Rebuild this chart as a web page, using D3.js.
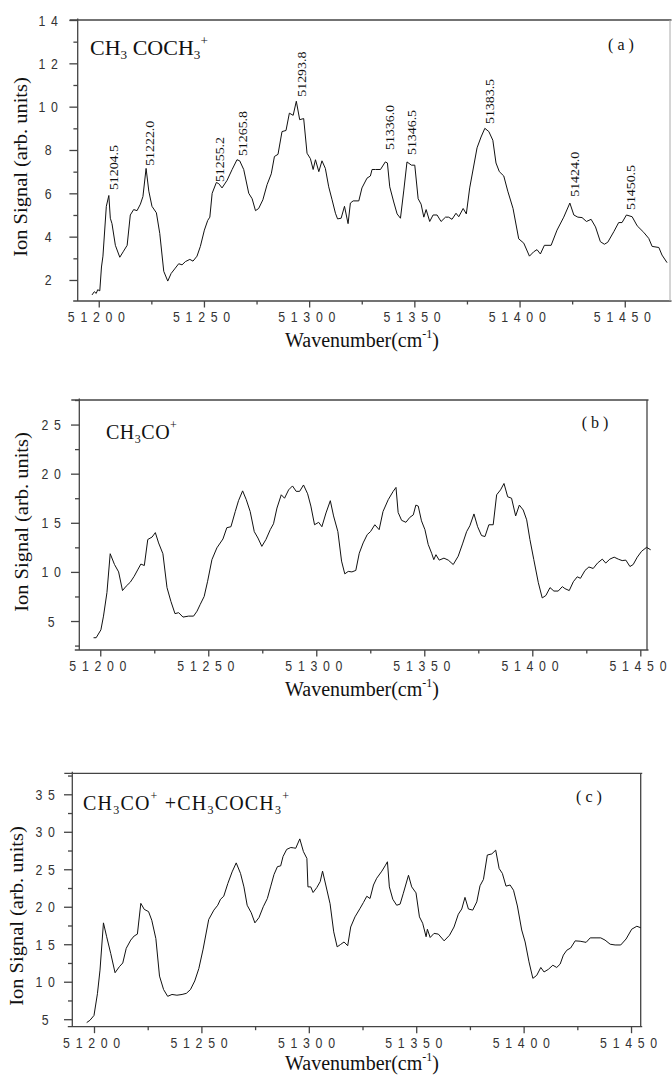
<!DOCTYPE html>
<html>
<head>
<meta charset="utf-8">
<script src="https://cdn.jsdelivr.net/npm/d3@7"></script>
<style>
  body { margin: 0; background: #fff; }
  svg { display: block; }
</style>
</head>
<body>
<div id="chart"></div>
<script>
(function spectra(){

// ---- data ----
const wnA = [51196.8,51197.9,51198.8,51199.5,51200.5,51201.3,51202.0,51203.6,51204.8,51205.5,51206.3,51207.9,51210.0,51211.6,51213.5,51215.0,51216.6,51218.2,51219.8,51221.0,51222.5,51223.8,51225.3,51227.4,51229.0,51230.9,51232.8,51234.4,51236.4,51238.0,51239.6,51241.2,51243.3,51244.8,51246.7,51248.3,51250.2,51251.8,51252.8,51253.9,51255.9,51257.0,51258.6,51261.0,51263.4,51265.7,51267.0,51268.9,51271.3,51272.9,51274.5,51276.0,51278.0,51280.0,51282.0,51283.5,51285.2,51287.1,51289.0,51290.6,51292.4,51293.9,51295.5,51297.4,51299.0,51300.6,51301.9,51303.0,51304.6,51306.1,51307.7,51309.3,51310.9,51312.5,51313.5,51315.2,51316.8,51318.5,51319.6,51320.9,51323.6,51325.1,51327.5,51329.1,51329.9,51331.5,51333.9,51336.2,51337.2,51338.3,51340.2,51341.8,51343.4,51345.0,51346.5,51348.6,51350.2,51351.8,51353.2,51354.5,51355.6,51357.3,51358.9,51360.8,51362.7,51364.8,51366.3,51367.9,51369.8,51371.1,51373.2,51374.7,51376.3,51379.8,51381.7,51383.5,51385.4,51387.3,51388.8,51390.4,51392.5,51394.4,51396.9,51399.6,51402.0,51404.7,51406.7,51408.3,51409.9,51411.8,51415.0,51417.8,51421.0,51423.9,51425.8,51427.7,51429.7,51431.8,51434.0,51436.1,51438.4,51440.3,51441.9,51444.8,51447.1,51448.7,51450.8,51453.5,51455.9,51459.0,51461.4,51463.0,51466.2,51467.7,51470.1];
const sigA = [1.31,1.46,1.38,1.55,1.5,2.6,3.1,5.4,5.9,4.85,4.6,3.6,3.05,3.3,3.6,5.0,5.25,5.2,5.5,5.85,7.15,6.1,5.4,5.1,4.15,2.4,1.95,2.3,2.55,2.75,2.7,2.85,2.95,2.87,3.1,3.55,4.3,4.75,4.9,6.0,6.5,6.45,6.25,6.6,7.1,7.55,7.5,7.1,6.0,5.75,5.2,5.3,5.7,6.4,6.9,7.7,7.8,8.85,8.9,9.7,9.6,10.25,9.4,9.45,7.85,7.6,7.1,7.55,7.0,7.5,7.15,6.3,5.7,5.08,4.82,4.85,5.4,4.6,5.55,5.65,5.65,6.25,6.7,6.8,7.1,7.1,7.1,7.45,7.4,6.3,5.6,5.05,4.85,6.15,7.45,7.3,7.3,5.75,5.5,4.9,5.25,4.7,5.0,5.0,4.7,4.9,4.9,4.8,5.08,4.92,5.3,5.05,6.25,8.1,8.6,9.0,8.85,8.45,7.4,7.0,6.8,6.1,5.3,3.9,3.7,3.1,3.3,3.4,3.2,3.6,3.6,4.3,4.9,5.55,5.0,4.9,4.88,4.7,4.8,4.45,3.77,3.65,3.74,4.23,4.65,4.65,5.0,4.92,4.5,4.2,3.92,3.55,3.5,3.15,2.8];

const wnB = [51196.9,51198.1,51200.3,51201.5,51203.1,51204.6,51206.6,51208.5,51210.3,51212.0,51213.9,51215.7,51217.3,51218.8,51220.4,51222.0,51224.0,51225.5,51227.0,51229.0,51230.9,51232.7,51234.6,51236.3,51238.3,51240.9,51243.2,51244.8,51246.3,51248.1,51249.7,51251.7,51254.0,51256.8,51258.6,51260.5,51262.5,51264.0,51265.9,51267.6,51269.4,51271.3,51273.0,51274.8,51276.7,51278.7,51280.2,51281.8,51283.8,51285.3,51287.2,51289.0,51290.7,51292.3,51294.1,51296.0,51297.5,51299.2,51301.1,51302.6,51304.5,51306.5,51308.0,51310.0,51311.7,51313.2,51314.8,51316.5,51318.3,51319.9,51321.7,51323.6,51325.1,51327.1,51329.1,51330.9,51333.3,51335.6,51336.9,51337.9,51339.5,51341.5,51343.3,51344.9,51346.1,51347.2,51348.7,51350.3,51351.8,51353.4,51354.4,51355.4,51356.9,51359.1,51361.1,51363.4,51365.7,51367.7,51369.6,51371.1,51373.0,51374.7,51376.5,51378.1,51379.9,51381.9,51383.5,51385.3,51386.9,51388.6,51390.4,51392.3,51394.0,51395.8,51397.4,51398.9,51400.7,51402.8,51404.6,51406.3,51408.2,51410.0,51412.0,51413.9,51415.1,51417.1,51419.0,51420.8,51422.3,51424.4,51426.2,51428.2,51430.2,51432.4,51434.0,51435.9,51437.9,51439.8,51441.6,51443.3,51445.2,51446.7,51448.6,51450.6,51452.9,51454.8];
const sigB = [3.3,3.3,4.1,5.5,7.9,11.85,10.75,10.0,8.1,8.55,8.95,9.55,10.2,10.8,10.65,13.3,13.55,14.0,12.95,11.85,8.4,7.0,5.75,5.85,5.4,5.5,5.5,6.0,6.7,7.5,9.05,11.25,12.45,13.35,14.5,14.6,16.15,17.25,18.25,17.35,16.15,14.1,13.45,12.6,13.3,14.3,14.9,16.5,17.85,17.5,18.35,18.75,18.2,18.2,18.85,17.95,16.7,14.8,15.05,14.6,16.0,17.25,15.7,14.1,11.1,9.8,10.05,10.0,10.15,11.9,12.95,13.8,14.1,14.8,14.3,16.15,17.35,18.2,18.6,16.05,15.25,15.05,15.55,15.8,16.8,16.7,15.2,14.3,12.8,11.9,11.25,11.75,11.2,11.4,11.2,10.75,11.6,12.85,14.1,14.7,15.9,14.6,13.7,13.6,14.8,14.8,17.85,18.35,19.0,17.65,17.5,15.7,16.8,16.3,15.3,13.3,11.25,8.9,7.35,7.6,8.4,8.05,8.05,8.5,8.3,8.1,9.0,9.5,9.35,10.15,10.5,10.35,10.9,11.3,10.9,11.3,11.5,11.3,11.15,11.2,10.55,10.75,11.5,12.1,12.5,12.25];

const wnC = [51196.6,51198.1,51200.0,51201.6,51202.8,51204.4,51205.9,51207.8,51209.8,51211.8,51213.4,51215.0,51217.1,51218.7,51220.2,51221.8,51223.4,51225.4,51226.9,51228.8,51230.5,51232.4,51234.3,51236.3,51238.6,51241.0,51243.0,51244.9,51246.9,51248.8,51250.8,51253.4,51255.8,51257.6,51258.9,51260.4,51262.3,51264.3,51266.2,51268.2,51269.8,51271.3,51273.2,51274.9,51276.8,51278.8,51280.7,51282.2,51283.8,51285.4,51286.9,51288.0,51289.7,51291.6,51293.0,51293.9,51295.8,51297.5,51299.1,51299.6,51300.9,51302.0,51303.7,51305.3,51306.4,51307.9,51309.9,51311.6,51313.2,51314.7,51316.4,51318.1,51319.5,51321.5,51323.9,51325.4,51327.0,51328.5,51330.1,51331.6,51334.0,51335.5,51336.6,51337.5,51339.1,51340.9,51342.5,51344.0,51346.4,51347.9,51349.9,51351.5,51353.0,51354.6,51355.2,51356.5,51358.3,51360.3,51363.0,51365.5,51367.6,51369.6,51371.2,51372.7,51374.3,51376.3,51378.2,51379.7,51381.3,51383.1,51385.2,51387.0,51388.6,51390.1,51391.8,51393.7,51395.3,51397.1,51399.1,51400.7,51402.5,51404.3,51406.1,51408.0,51409.5,51411.5,51413.6,51415.4,51417.0,51418.5,51420.1,51421.9,51424.0,51426.3,51429.1,51431.0,51433.7,51435.9,51437.9,51440.3,51442.6,51445.2,51447.7,51450.3,51452.7,51454.5];
const sigC = [4.55,4.85,5.5,8.4,11.55,17.85,16.0,13.75,11.2,12.0,12.5,14.45,15.55,16.1,16.35,20.45,19.65,19.35,18.2,15.75,10.75,8.95,8.05,8.3,8.2,8.3,8.45,8.95,10.1,11.75,14.35,18.3,19.55,20.2,21.0,21.4,23.1,24.65,25.85,24.45,22.65,20.2,19.2,17.85,18.55,20.0,21.1,22.65,24.3,25.35,25.45,26.7,27.65,27.9,27.85,27.8,29.05,27.35,26.45,22.65,22.65,21.9,22.55,23.35,24.75,22.9,20.4,16.65,14.65,14.95,15.3,14.8,17.3,18.65,19.8,20.55,21.4,21.1,22.9,23.8,24.75,25.45,26.0,22.65,21.0,20.2,20.35,21.8,24.2,22.65,21.85,18.65,17.8,16.0,17.0,15.9,16.45,16.35,15.45,16.2,17.3,19.0,19.7,21.25,19.7,19.55,20.65,22.8,23.65,26.9,27.05,27.55,25.1,24.45,22.75,22.9,22.2,20.1,16.9,15.3,12.65,10.45,10.85,11.9,11.3,11.65,12.2,11.9,12.35,13.55,14.2,14.5,15.45,15.4,15.25,15.85,15.85,15.85,15.55,15.0,14.9,14.9,15.7,17.0,17.4,17.2];

// peak assignments in panel (a)
const peakWn  = [51204.5,51222.0,51255.2,51265.8,51293.8,51336.0,51346.5,51383.5,51424.0,51450.5];
const peakSig = [6.15,7.27,6.52,7.72,10.46,8.0,7.77,9.2,5.84,5.23];

// ticks
const xMajor  = [51200,51250,51300,51350,51400,51450];
const xMinor  = [51225,51275,51325,51375,51425];
const yMajorA = [2,4,6,8,10,12,14];
const yMinorA = [3,5,7,9,11,13];
const yMajorB = [5,10,15,20,25];
const yMinorB = [2.5,7.5,12.5,17.5,22.5,27.5];
const yMajorC = [5,10,15,20,25,30,35];
const yMinorC = [7.5,12.5,17.5,22.5,27.5,32.5,37.5];

// titles: [text, 0 normal / -1 subscript / 1 superscript]
const titleA = [["CH",0],["3",-1],[" COCH",0],["3",-1],["+",1]];
const titleB = [["CH",0],["3",-1],["CO",0],["+",1]];
const titleC = [["CH",0],["3",-1],["CO",0],["+",1],[" +CH",0],["3",-1],["COCH",0],["3",-1],["+",1]];
const xTitle = "Wavenumber(cm";
const yTitle = "Ion Signal (arb. units)";

const width = 672, height = 1075;
const SERIF = "'Liberation Serif','Times New Roman',serif";
const SANS = "'Liberation Sans',Arial,sans-serif";
const AXIS = "#444";

const svg = d3.select("#chart").append("svg")
    .attr("width", width).attr("height", height)
    .attr("viewBox", [0, 0, width, height]);

const panels = [
  { wn: wnA, sig: sigA, left: 77.7, right: 670, top: 20, bottom: 301,
    xDom: [51190.0, 51471.5], yDom: [1.03, 14], yMajor: yMajorA, yMinor: yMinorA,
    title: titleA, tx: 90, ty: 55, tsize: 22, tspace: 0, tag: "( a )", tagX: 621, tagY: 50,
    yLab: [20, 167], xLabY: 347, yTickX: 48, rightCol: "#aaa" },
  { wn: wnB, sig: sigB, left: 79.3, right: 647, top: 400, bottom: 650,
    xDom: [51190.3, 51453.1], yDom: [2.05, 27.5], yMajor: yMajorB, yMinor: yMinorB,
    title: titleB, tx: 106, ty: 439, tsize: 20, tspace: 0.5, tag: "( b )", tagX: 595, tagY: 428,
    yLab: [21, 522], xLabY: 696, yTickX: 51, rightCol: AXIS },
  { wn: wnC, sig: sigC, left: 72.3, right: 640.7, top: 773.3, bottom: 1026.7,
    xDom: [51189.9, 51454.5], yDom: [4, 37.8], yMajor: yMajorC, yMinor: yMinorC,
    title: titleC, tx: 83, ty: 810, tsize: 20, tspace: 1.2, tag: "( c )", tagX: 589, tagY: 802,
    yLab: [16, 916], xLabY: 1070, yTickX: 45, rightCol: AXIS }
];

panels.forEach((p, i) => {
  const g = svg.append("g");

  let x = d3.scaleLinear().domain(p.xDom).range([p.left, p.right]);
  let y = d3.scaleLinear().domain(p.yDom).range([p.bottom, p.top]);

  // frame
  const frame = g.append("g").attr("stroke", AXIS).attr("stroke-width", 1.3).attr("fill", "none");
  frame.append("line").attr("x1", p.left - 4.5).attr("x2", p.right + 1.5).attr("y1", p.bottom).attr("y2", p.bottom);
  frame.append("line").attr("x1", p.left).attr("x2", p.left).attr("y1", p.bottom).attr("y2", p.top - 1.5);
  frame.append("line").attr("x1", p.left - 8).attr("x2", p.right + 1.5).attr("y1", p.top).attr("y2", p.top);
  frame.append("line").attr("x1", p.right).attr("x2", p.right).attr("y1", p.top).attr("y2", p.bottom)
    .attr("stroke", p.rightCol).attr("stroke-width", i === 0 ? 1 : 1.3);

  // x ticks
  const xa = g.append("g").attr("transform", `translate(0,${p.bottom})`)
    .call(d3.axisBottom(x).tickValues(xMajor).tickSize(6.5).tickSizeOuter(0).tickFormat(d => d));
  g.append("g").attr("transform", `translate(0,${p.bottom})`)
    .call(d3.axisBottom(x).tickValues(xMinor).tickSize(3.5).tickSizeOuter(0).tickFormat(""));

  // y ticks
  const ya = g.append("g").attr("transform", `translate(${p.left},0)`)
    .call(d3.axisLeft(y).tickValues(p.yMajor).tickSize(8.3).tickSizeOuter(0).tickFormat(d => d));
  g.append("g").attr("transform", `translate(${p.left},0)`)
    .call(d3.axisLeft(y).tickValues(p.yMinor).tickSize(4.3).tickSizeOuter(0).tickFormat(""));

  g.selectAll(".domain").remove();
  g.selectAll(".tick line").attr("stroke", AXIS).attr("stroke-width", 1.3);

  xa.selectAll(".tick text")
    .attr("x", null).attr("y", null).attr("dy", null)
    .attr("text-anchor", "middle")
    .attr("transform", "translate(0,21) scale(0.88,1)");
  ya.selectAll(".tick text")
    .attr("x", null).attr("y", null).attr("dy", null)
    .attr("text-anchor", "middle")
    .attr("transform", `translate(${p.yTickX - p.left + 3},5) scale(0.88,1)`);
  g.selectAll(".tick text")
    .attr("fill", "#333")
    .style("font-family", SANS)
    .style("font-size", "14px")
    .style("letter-spacing", "6.5px");

  // curve
  const line = d3.line().x(d => x(d[0])).y(d => y(d[1]));
  g.append("path")
    .datum(d3.zip(p.wn, p.sig))
    .attr("fill", "none")
    .attr("stroke", "#111")
    .attr("stroke-width", 1)
    .attr("stroke-linejoin", "round")
    .attr("d", line);

  // species title with sub/superscripts
  const t = g.append("text")
    .attr("x", p.tx).attr("y", p.ty)
    .style("font-family", SERIF)
    .style("font-size", p.tsize + "px")
    .style("letter-spacing", p.tspace + "px")
    .attr("fill", "#111");
  let cur = 0;
  p.title.forEach(([s, k]) => {
    const off = k === -1 ? 4 : k === 1 ? -10 : 0;
    t.append("tspan")
      .attr("dy", off - cur)
      .style("font-size", k === 0 ? null : (p.tsize * 0.6) + "px")
      .text(s);
    cur = off;
  });

  // panel tag
  g.append("text")
    .attr("x", p.tagX).attr("y", p.tagY)
    .attr("text-anchor", "middle")
    .style("font-family", SERIF)
    .style("font-size", "16px")
    .attr("fill", "#111")
    .text(p.tag);

  // axis titles
  const xt = g.append("text")
    .attr("x", 362).attr("y", p.xLabY)
    .attr("text-anchor", "middle")
    .style("font-family", SERIF)
    .style("font-size", "20px")
    .attr("fill", "#111");
  xt.append("tspan").text(xTitle);
  xt.append("tspan").attr("dy", -9).style("font-size", "12px").text("-1");
  xt.append("tspan").attr("dy", 9).text(")");

  g.append("text")
    .attr("transform", `translate(${p.yLab[0]},${p.yLab[1]}) rotate(-90) scale(1.05,1)`)
    .attr("text-anchor", "middle")
    .attr("dy", "0.35em")
    .style("font-family", SERIF)
    .style("font-size", "19.5px")
    .attr("fill", "#111")
    .text(yTitle);

  // peak labels (panel a only)
  if (i === 0) {
    g.append("g")
      .selectAll("text")
      .data(d3.zip(peakWn, peakSig))
      .join("text")
      .attr("transform", d => `translate(${x(d[0]) + 5},${y(d[1])}) rotate(-90) scale(1.1,1)`)
      .attr("dy", "0.35em")
      .style("font-family", SERIF)
      .style("font-size", "12.6px")
      .attr("fill", "#111")
      .text(d => d[0].toFixed(1));
  }
});

})();
</script>
</body>
</html>
